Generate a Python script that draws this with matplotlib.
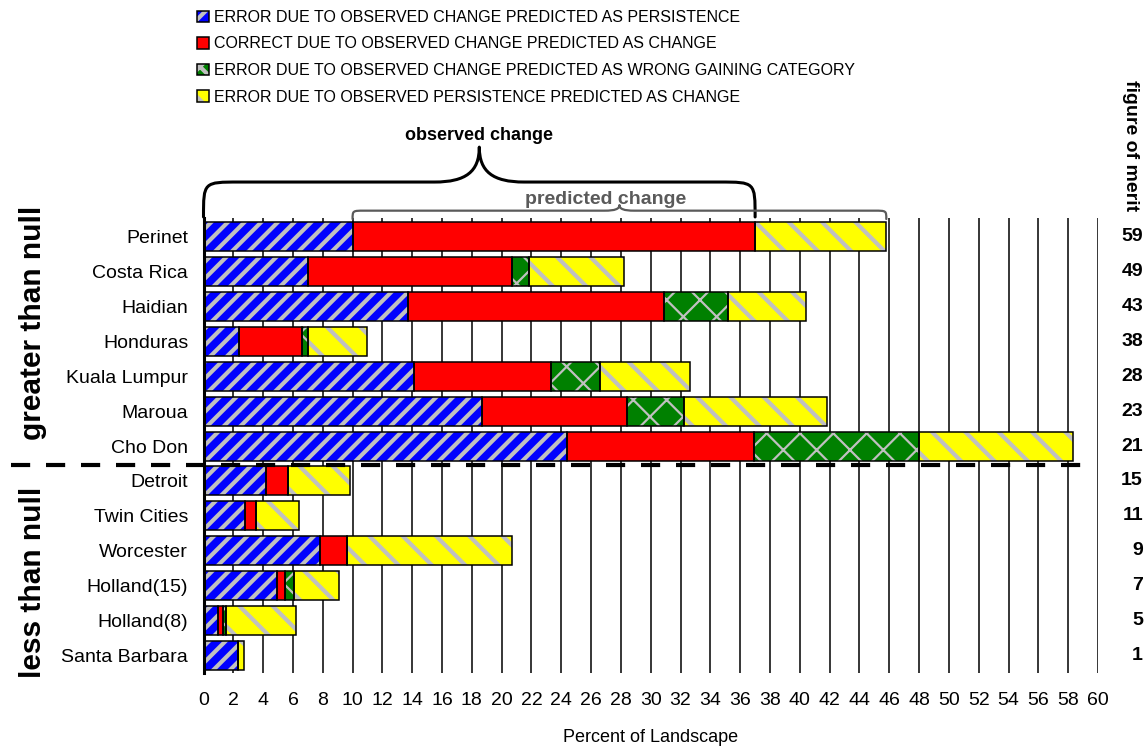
import numpy as np
import matplotlib
matplotlib.use("Agg")
import matplotlib.pyplot as plt
from matplotlib.patches import Patch, PathPatch
from matplotlib.path import Path
from matplotlib.transforms import blended_transform_factory

plt.rcParams['font.family'] = ['Liberation Sans', 'DejaVu Sans']
plt.rcParams['hatch.color'] = '#C0C0C0'
plt.rcParams['hatch.linewidth'] = 3.0

sites = ["Perinet", "Costa Rica", "Haidian", "Honduras", "Kuala Lumpur",
         "Maroua", "Cho Don", "Detroit", "Twin Cities", "Worcester",
         "Holland(15)", "Holland(8)", "Santa Barbara"]

# percent of landscape, per site
miss_persist = [10.0, 7.0, 13.7, 2.4, 14.1, 18.7, 24.4, 4.2, 2.8, 7.8, 4.9, 1.0, 2.3]
hits = [27.0, 13.7, 17.2, 4.2, 9.2, 9.7, 12.5, 1.5, 0.7, 1.8, 0.6, 0.3, 0.03]
wrong_gain = [0.0, 1.1, 4.3, 0.4, 3.3, 3.8, 11.1, 0.0, 0.0, 0.0, 0.6, 0.2, 0.0]
false_alarm = [8.8, 6.4, 5.2, 4.0, 6.0, 9.6, 10.3, 4.1, 2.9, 11.1, 3.0, 4.7, 0.4]

merit = [59, 49, 43, 38, 28, 23, 21, 15, 11, 9, 7, 5, 1]

labels = ["ERROR DUE TO OBSERVED CHANGE PREDICTED AS PERSISTENCE",
          "CORRECT DUE TO OBSERVED CHANGE PREDICTED AS CHANGE",
          "ERROR DUE TO OBSERVED CHANGE PREDICTED AS WRONG GAINING CATEGORY",
          "ERROR DUE TO OBSERVED PERSISTENCE PREDICTED AS CHANGE"]
colors = ['#0000FF', '#FF0000', '#008000', '#FFFF00']
hatches = ['//', None, 'x', '\\']
hatch_lw = [3.0, 3.0, 1.6, 3.0]

W, H = 1146, 751
fig = plt.figure(figsize=(W / 100, H / 100), dpi=100)
ax = fig.add_axes([203.5 / W, 1 - 673 / H, (1098 - 203.5) / W, (673 - 218) / H])

y = np.arange(len(sites))
series = [miss_persist, hits, wrong_gain, false_alarm]
left = np.zeros(len(sites))
handles = []
for vals, c, h, hl in zip(series, colors, hatches, hatch_lw):
    vals = np.array(vals)
    with plt.rc_context({'hatch.linewidth': hl}):
        ax.barh(y, vals, 0.83, left=left, color=c, hatch=h, edgecolor='#C0C0C0',
                linewidth=0, zorder=2)
        fill_patch = Patch(facecolor=c, hatch=h, edgecolor='#C0C0C0', linewidth=0)
    ax.barh(y, vals, 0.83, left=left, fill=False, edgecolor='black',
            linewidth=1.1, zorder=3)
    left = left + vals
    handles.append((fill_patch, Patch(fill=False, edgecolor='black', linewidth=1.1)))

ax.set_xlim(0, 60)
ax.set_ylim(12.5, -0.53)
ax.set_xticks(range(0, 61, 2))
ax.set_yticks(y)
ax.set_yticklabels(sites)
ax.tick_params(axis='both', length=0, labelsize=14)
ax.tick_params(axis='x', pad=14)
ax.tick_params(axis='y', pad=11)
ax.set_xlabel("Percent of Landscape", fontsize=13, labelpad=14)
ax.xaxis.grid(True, color='black', linewidth=1.1)
ax.set_axisbelow(True)
for s in ['top', 'right', 'bottom']:
    ax.spines[s].set_visible(False)
ax.spines['left'].set_linewidth(2.2)
ax.spines['left'].set_zorder(4)

# divider between greater / less than null
ax.plot([-12.9, 59.6], [6.54, 6.54], color='black', lw=3,
        linestyle=(0, (4.6, 3.8)), clip_on=False, zorder=5)


def brace(x0, x1, y_end, y_bar, y_tip, r, w, **kw):
    xm = (x0 + x1) / 2
    verts = [(x0, y_end),
             (x0, y_bar), (x0, y_bar), (x0 + r, y_bar),
             (xm - w, y_bar),
             (xm - w * 0.3, y_bar), (xm, y_bar + 0.3 * (y_tip - y_bar)), (xm, y_tip),
             (xm, y_bar + 0.3 * (y_tip - y_bar)), (xm + w * 0.3, y_bar), (xm + w, y_bar),
             (x1 - r, y_bar),
             (x1, y_bar), (x1, y_bar), (x1, y_end)]
    codes = [Path.MOVETO, Path.CURVE4, Path.CURVE4, Path.CURVE4, Path.LINETO,
             Path.CURVE4, Path.CURVE4, Path.CURVE4,
             Path.CURVE4, Path.CURVE4, Path.CURVE4, Path.LINETO,
             Path.CURVE4, Path.CURVE4, Path.CURVE4]
    ax.add_patch(PathPatch(Path(verts, codes), fill=False, clip_on=False,
                           capstyle='round', joinstyle='round', zorder=6, **kw))
    return xm


# braces from the first site (Perinet)
obs_end = miss_persist[0] + hits[0] + wrong_gain[0]
pred_end = obs_end + false_alarm[0]
xm = brace(0, obs_end, -0.56, -1.56, -2.56, 2.4, 3.0, edgecolor='black', lw=2.2)
ax.text(xm, -2.88, "observed change", ha='center', va='center',
        fontsize=13, fontweight='bold')
xm2 = brace(miss_persist[0], pred_end, -0.5, -0.74, -0.9, 0.8, 1.0,
            edgecolor='#5A5A5A', lw=1.6)
ax.text(xm2 - 0.9, -1.05, "predicted change", ha='center', va='center',
        fontsize=14, fontweight='bold', color='#5A5A5A')

# figure of merit column
tr = blended_transform_factory(fig.transFigure, ax.transData)
for yi, m in zip(y, merit):
    ax.text(1143 / W, yi, str(m), transform=tr, ha='right', va='center',
            fontsize=14, fontweight='bold')
fig.text(1130 / W, 1 - 146 / H, "figure of merit", rotation=-90, ha='center',
         va='center', fontsize=14, fontweight='bold')

fig.text(33 / W, 1 - 323 / H, "greater than null", rotation=90, ha='center',
         va='center', fontsize=21.5, fontweight='bold')
fig.text(33 / W, 1 - 582 / H, "less than null", rotation=90, ha='center',
         va='center', fontsize=21.5, fontweight='bold')

fig.legend(handles, labels, loc='upper left', bbox_to_anchor=(197 / W, 1 - 10 / H),
           frameon=False, fontsize=11.5, handlelength=0.75, handleheight=0.75,
           handletextpad=0.3, labelspacing=0.72, borderpad=0, borderaxespad=0)

fig.savefig("out.png", dpi=100)
